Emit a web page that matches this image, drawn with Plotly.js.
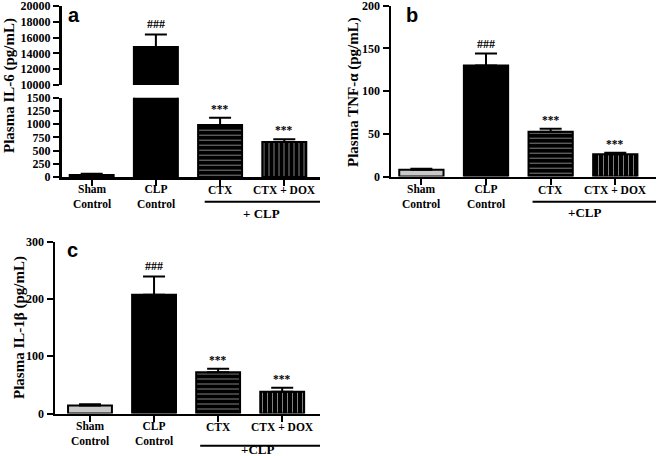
<!DOCTYPE html>
<html>
<head>
<meta charset="utf-8">
<script src="https://cdn.plot.ly/plotly-3.0.1.min.js"></script>
<style>html,body{margin:0;padding:0;background:#fff;}#chart{width:661px;height:456px;}</style>
</head>
<body>
<div id="chart"></div>
<script>
// ---- data ----
var categories = ["Sham Control", "CLP Control", "CTX", "CTX + DOX"];
var tickLabels = ["Sham<br>Control", "CLP<br>Control", "CTX", "CTX + DOX"];
var il6Mean = [40, 14800, 985, 660];
var il6Err = [20, 1600, 135, 56];
var tnfMean = [7.8, 130, 52.5, 26];
var tnfErr = [1.2, 14, 3.5, 1.7];
var il1bMean = [14, 207, 72, 38];
var il1bErr = [2, 32, 6, 7];
var sigMarks = ["", "###", "***", "***"];
var il6UpperTicks = [10000, 12000, 14000, 16000, 18000, 20000];
var il6LowerTicks = [0, 250, 500, 750, 1000, 1250, 1500];
var tnfTicks = [0, 50, 100, 150, 200];
var il1bTicks = [0, 100, 200, 300];
var groupLabels = ["+ CLP", "+CLP", "+CLP"];
var panelLetters = ["a", "b", "c"];
var yTitles = ["Plasma IL-6 (pg/mL)", "Plasma TNF-\u03b1 (pg/mL)", "Plasma IL-1\u03b2 (pg/mL)"];

// ---- helpers ----
var W = 661, H = 456;
function fx(p) { return p / W; }
function fy(p) { return 1 - p / H; }
var SERIF = "Liberation Serif";
var SANS = "Liberation Sans";
var tickFont = {family: SERIF, size: 12, color: "#000", weight: "bold"};

var barMarker = {
  color: ["#c8c8c8", "#000000", "#000000", "#000000"],
  line: {color: "#000", width: 2},
  pattern: {
    shape: ["", "", "-", "|"],
    fgcolor: "#ffffff",
    size: 5,
    solidity: 0.2,
    fillmode: "overlay"
  }
};

function barTrace(vals, errs, xa, ya) {
  return {
    type: "bar", x: categories, y: vals, xaxis: xa, yaxis: ya,
    marker: barMarker, showlegend: false, hoverinfo: "skip",
    error_y: {type: "data", symmetric: false, array: errs,
      arrayminus: errs.map(function(){return 0;}),
      color: "#000", thickness: 2, width: 11, visible: true}
  };
}

var data = [
  barTrace(il6Mean, il6Err, "x", "y"),
  barTrace(il6Mean, il6Err, "x2", "y2"),
  barTrace(tnfMean, tnfErr, "x3", "y3"),
  barTrace(il1bMean, il1bErr, "x4", "y4")
];

function xAxis(dom, rng, anchor, visible) {
  return {
    domain: dom, range: rng, anchor: anchor, type: "category",
    showline: visible, linecolor: "#000", linewidth: 2.5,
    ticks: visible ? "outside" : "", ticklen: 6, tickwidth: 2, tickcolor: "#000",
    showticklabels: false, showgrid: false, zeroline: false, fixedrange: true,
    visible: visible
  };
}
function yAxis(dom, rng, ticks, anchor, tlen) {
  return {
    domain: dom, range: rng, anchor: anchor,
    tickmode: "array", tickvals: ticks, ticktext: ticks.map(String),
    showline: true, linecolor: "#000", linewidth: 2.5,
    ticks: "outside", ticklen: tlen, tickwidth: 2, tickcolor: "#000",
    tickfont: tickFont, showgrid: false, zeroline: false, fixedrange: true,
    ticklabeloverflow: "allow"
  };
}

var layout = {
  width: W, height: H,
  margin: {l: 0, r: 0, t: 0, b: 0},
  paper_bgcolor: "#fff", plot_bgcolor: "rgba(0,0,0,0)",
  bargap: 0.315,
  showlegend: false,
  xaxis: xAxis([fx(61.5), fx(320)], [-0.47, 3.556], "y", true),
  yaxis: yAxis([fy(177), fy(97.7)], [0, 1500], il6LowerTicks, "x", 6),
  xaxis2: xAxis([fx(61.5), fx(320)], [-0.47, 3.556], "y2", false),
  yaxis2: yAxis([fy(85), fy(6)], [10000, 20000], il6UpperTicks, "x2", 6),
  xaxis3: xAxis([fx(391), fx(656)], [-0.47, 3.63], "y3", true),
  yaxis3: yAxis([fy(176.5), fy(5.7)], [0, 200], tnfTicks, "x3", 6),
  xaxis4: xAxis([fx(55), fx(320)], [-0.546, 3.59], "y4", true),
  yaxis4: yAxis([fy(413.5), fy(241.5)], [0, 300], il1bTicks, "x4", 6),
  annotations: [],
  shapes: []
};

var ann = layout.annotations;
var panels = [
  {xa: "x", ya: ["y", "y2", "y", "y"], means: il6Mean, errs: il6Err,
   lab: 196, br: 201.7, brx: [1.76, 3.66], gl: 213.3, glx: 2.65,
   letter: [74, 15], title: [9, 86]},
  {xa: "x3", ya: ["y3", "y3", "y3", "y3"], means: tnfMean, errs: tnfErr,
   lab: 196, br: 201.7, brx: [1.72, 3.7], gl: 212.7, glx: 2.52,
   letter: [412, 15], title: [354, 92]},
  {xa: "x4", ya: ["y4", "y4", "y4", "y4"], means: il1bMean, errs: il1bErr,
   lab: 433, br: 445.7, brx: [1.72, 3.62], gl: 449.5, glx: 2.62,
   letter: [72, 250], title: [19, 328]}
];

panels.forEach(function(p, k) {
  for (var i = 0; i < categories.length; i++) {
    var twoLine = tickLabels[i].indexOf("<br>") >= 0;
    ann.push({xref: p.xa, yref: "paper", x: categories[i],
      y: twoLine ? fy(p.lab) : fy(p.lab - 6.5), text: tickLabels[i],
      showarrow: false, xanchor: "center", yanchor: "middle", borderpad: 0,
      font: {family: SERIF, size: 11.5, color: "#000", weight: "bold"}});
    if (sigMarks[i]) {
      ann.push({xref: p.xa, yref: p.ya[i], x: categories[i], y: p.means[i] + p.errs[i],
        text: sigMarks[i], showarrow: false, xanchor: "center", yanchor: "bottom", yshift: 1,
        font: {family: SERIF, size: sigMarks[i] === "###" ? 12 : 11.5, color: "#000", weight: "bold"}});
    }
  }
  layout.shapes.push({type: "line", xref: p.xa, yref: "paper",
    x0: p.brx[0], x1: p.brx[1], y0: fy(p.br), y1: fy(p.br),
    line: {color: "#000", width: 2}});
  ann.push({xref: p.xa, yref: "paper", x: p.glx, y: fy(p.gl), text: groupLabels[k],
    showarrow: false, xanchor: "center", yanchor: "middle", borderpad: 0,
    font: {family: SERIF, size: 13, color: "#000", weight: "bold"}});
  ann.push({xref: "paper", yref: "paper", x: fx(p.letter[0]), y: fy(p.letter[1]), text: panelLetters[k],
    showarrow: false, xanchor: "center", yanchor: "middle",
    font: {family: SANS, size: 20, color: "#000", weight: "bold"}});
  ann.push({xref: "paper", yref: "paper", x: fx(p.title[0]), y: fy(p.title[1]), text: yTitles[k],
    showarrow: false, xanchor: "center", yanchor: "middle", textangle: -90, borderpad: 0,
    font: {family: SERIF, size: 15, color: "#000", weight: "bold"}});
});

Plotly.newPlot("chart", data, layout, {staticPlot: true, displayModeBar: false});
</script>
</body>
</html>
